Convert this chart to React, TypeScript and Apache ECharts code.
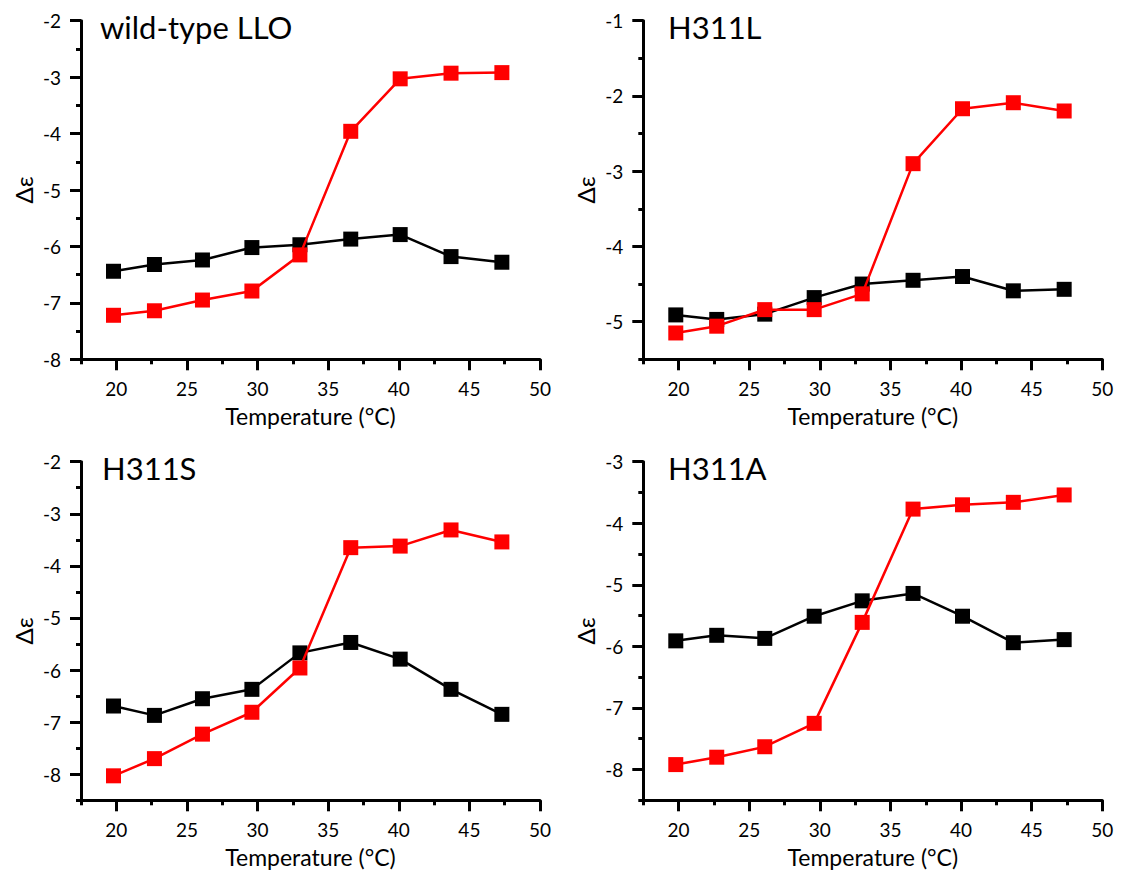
import React, { useEffect, useRef } from "react";
import * as echarts from "echarts";

// Temperatures (°C) shared by all panels
const temps = [19.8, 22.7, 26.1, 29.6, 33.0, 36.6, 40.1, 43.7, 47.3];

// Panel data (black = one condition, red = the other)
const wtBlack = [-6.44, -6.32, -6.24, -6.02, -5.97, -5.87, -5.79, -6.18, -6.28];
const wtRed = [-7.22, -7.14, -6.95, -6.79, -6.15, -3.96, -3.03, -2.93, -2.92];
const lBlack = [-4.91, -4.97, -4.9, -4.68, -4.5, -4.45, -4.4, -4.59, -4.57];
const lRed = [-5.15, -5.06, -4.84, -4.84, -4.63, -2.9, -2.17, -2.09, -2.2];
const sBlack = [-6.69, -6.87, -6.55, -6.37, -5.67, -5.47, -5.79, -6.37, -6.85];
const sRed = [-8.03, -7.7, -7.23, -6.81, -5.96, -3.65, -3.62, -3.31, -3.54];
const aBlack = [-5.91, -5.82, -5.87, -5.51, -5.26, -5.14, -5.51, -5.94, -5.89];
const aRed = [-7.92, -7.8, -7.63, -7.25, -5.61, -3.77, -3.7, -3.66, -3.54];

// Tick values
const xMajor = [20, 25, 30, 35, 40, 45, 50];
const xMinor = [17.5, 22.5, 27.5, 32.5, 37.5, 42.5, 47.5];
const yMajorWT = [-8, -7, -6, -5, -4, -3, -2];
const yMinorWT = [-7.5, -6.5, -5.5, -4.5, -3.5, -2.5];
const yMajorL = [-5, -4, -3, -2, -1];
const yMinorL = [-5.5, -4.5, -3.5, -2.5, -1.5];
const yMajorS = [-8, -7, -6, -5, -4, -3, -2];
const yMinorS = [-8.5, -7.5, -6.5, -5.5, -4.5, -3.5, -2.5];
const yMajorA = [-8, -7, -6, -5, -4, -3];
const yMinorA = [-8.5, -7.5, -6.5, -5.5, -4.5, -3.5];

const titles = ["wild-type LLO", "H311L", "H311S", "H311A"];

const FONT = "Lato, 'Open Sans', sans-serif";

export default function App() {
  const ref = useRef<HTMLDivElement>(null);
  useEffect(() => {
    if (!ref.current) return;
    const chart = echarts.init(ref.current, undefined, { renderer: "svg" });

    const panels = [
      { title: titles[0], black: wtBlack, red: wtRed, yMin: -8, yMax: -2, yMajor: yMajorWT, yMinor: yMinorWT, left: 81, top: 20.7, tx: 100 },
      { title: titles[1], black: lBlack, red: lRed, yMin: -5.5, yMax: -1, yMajor: yMajorL, yMinor: yMinorL, left: 643.3, top: 20.7, tx: 668 },
      { title: titles[2], black: sBlack, red: sRed, yMin: -8.5, yMax: -2, yMajor: yMajorS, yMinor: yMinorS, left: 81, top: 461.7, tx: 102 },
      { title: titles[3], black: aBlack, red: aRed, yMin: -8.5, yMax: -3, yMajor: yMajorA, yMinor: yMinorA, left: 643.3, top: 461.7, tx: 668 },
    ];
    const gw = 459;
    const gh = 338.6;

    const grid: any[] = [];
    const xAxis: any[] = [];
    const yAxis: any[] = [];
    const series: any[] = [];
    const graphic: any[] = [];

    const lineStyle = { color: "#000", width: 3 };

    panels.forEach((p, i) => {
      grid.push({ left: p.left, top: p.top, width: gw, height: gh, outerBoundsMode: "none", containLabel: false });
      xAxis.push({
        type: "value",
        gridIndex: i,
        min: 17.5,
        max: 50,
        position: "bottom",
        axisLine: { show: true, onZero: false, lineStyle },
        axisTick: { show: true, customValues: xMajor, length: 11, lineStyle },
        axisLabel: { customValues: xMajor, fontSize: 19, fontFamily: FONT, color: "#000", margin: 20 },
        splitLine: { show: false },
        name: "Temperature (°C)",
        nameLocation: "middle",
        nameGap: 45,
        nameTextStyle: { fontSize: 23, fontFamily: FONT, color: "#000" },
      });
      yAxis.push({
        type: "value",
        gridIndex: i,
        min: p.yMin,
        max: p.yMax,
        position: "left",
        axisLine: { show: true, onZero: false, lineStyle },
        axisTick: { show: true, customValues: p.yMajor, length: 11, lineStyle },
        axisLabel: { customValues: p.yMajor, fontSize: 19, fontFamily: FONT, color: "#000", margin: 20, formatter: (v: number) => String(v) },
        splitLine: { show: false },
        name: "Δε",
        nameLocation: "middle",
        nameGap: 46,
        nameTextStyle: { fontSize: 24, fontFamily: FONT, color: "#000" },
      });
    });
    panels.forEach((p, i) => {
      xAxis.push({
        type: "value",
        gridIndex: i,
        min: 17.5,
        max: 50,
        position: "bottom",
        axisLine: { show: false, onZero: false },
        axisTick: { show: true, customValues: xMinor, length: 5, lineStyle },
        axisLabel: { show: false },
        splitLine: { show: false },
      });
      yAxis.push({
        type: "value",
        gridIndex: i,
        min: p.yMin,
        max: p.yMax,
        position: "left",
        axisLine: { show: false, onZero: false },
        axisTick: { show: true, customValues: p.yMinor, length: 5, lineStyle },
        axisLabel: { show: false },
        splitLine: { show: false },
      });
    });

    panels.forEach((p, i) => {
      series.push({
        type: "line",
        xAxisIndex: i,
        yAxisIndex: i,
        data: temps.map((t, k) => [t, p.black[k]]),
        symbol: "rect",
        symbolSize: 15,
        itemStyle: { color: "#000" },
        lineStyle: { color: "#000", width: 2.5 },
        z: 3,
      });
      series.push({
        type: "line",
        xAxisIndex: i,
        yAxisIndex: i,
        data: temps.map((t, k) => [t, p.red[k]]),
        symbol: "rect",
        symbolSize: 15,
        itemStyle: { color: "#ff0000" },
        lineStyle: { color: "#ff0000", width: 2.5 },
        z: 4,
      });
      graphic.push({
        type: "text",
        x: p.tx,
        y: p.top + 6,
        style: { text: p.title, fontSize: 31, fontFamily: FONT, fill: "#000", verticalAlign: "middle", align: "left" },
      });
    });

    chart.setOption({
      animation: false,
      backgroundColor: "#fff",
      grid,
      xAxis,
      yAxis,
      series,
      graphic,
    });
    return () => chart.dispose();
  }, []);
  return <div ref={ref} style={{ position: "absolute", left: 0, top: 0, width: 1122, height: 873 }} />;
}
